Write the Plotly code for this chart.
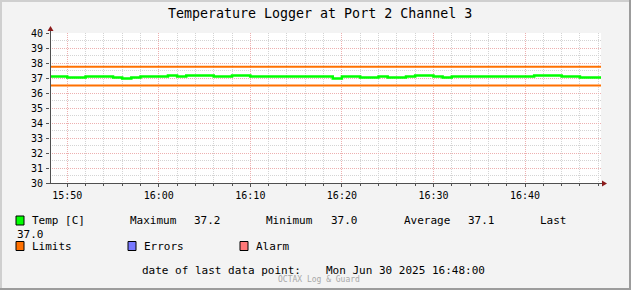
import pandas as pd
import plotly.graph_objects as go

# ---------------- data ----------------
TITLE = "Temperature Logger at Port 2 Channel 3"
X_START = "2025-06-30 15:48:07"
X_END = "2025-06-30 16:48:18"
SAMPLE_START = "2025-06-30 15:48:00"
TEMP_VALUES = [
    37.10, 37.10, 37.03, 37.03, 37.10, 37.10, 37.10, 37.03, 36.97, 37.03,
    37.10, 37.10, 37.10, 37.17, 37.10, 37.17, 37.17, 37.17, 37.10, 37.10,
    37.17, 37.17, 37.10, 37.10, 37.10, 37.10, 37.10, 37.10, 37.10, 37.10,
    37.10, 36.97, 37.10, 37.10, 37.03, 37.03, 37.10, 37.03, 37.03, 37.10,
    37.17, 37.17, 37.10, 37.03, 37.10, 37.10, 37.10, 37.10, 37.10, 37.10,
    37.10, 37.10, 37.10, 37.17, 37.17, 37.17, 37.10, 37.10, 37.03, 37.03,
]
LIMIT_HIGH = 37.75
LIMIT_LOW = 36.5
Y_RANGE = [30, 40]
STATS = {"Maximum": "37.2", "Minimum": "37.0", "Average": "37.1", "Last": "37.0"}
LAST_DATE = "Mon Jun 30 2025 16:48:00"

# ---------------- geometry helpers ----------------
W, H = 631, 290
PL, PT, PW, PH = 50, 33, 551, 150
FONT = "DejaVu Sans Mono"


def px(x):
    return (x - PL) / PW


def py(y):
    return (PT + PH - y) / PH


times = list(pd.date_range(SAMPLE_START, periods=len(TEMP_VALUES), freq="1min"))
times.append(pd.Timestamp(X_END))
temps = TEMP_VALUES + [TEMP_VALUES[-1]]

fig = go.Figure()
for lim in (LIMIT_HIGH, LIMIT_LOW):
    fig.add_trace(go.Scatter(x=[X_START, X_END], y=[lim, lim], mode="lines",
                             line=dict(color="#ff7000", width=2), hoverinfo="skip"))
fig.add_trace(go.Scatter(x=times, y=temps, mode="lines", line_shape="hv",
                         line=dict(color="#00ff00", width=2.5), hoverinfo="skip"))

MAJ = "#edb0b0"
MIN = "#d4d4d4"
AX = "#505050"
fig.update_xaxes(
    range=[X_START, X_END], type="date", tick0="2025-06-30 15:50:00", dtick=600000,
    tickformat="%H:%M", showgrid=True, gridcolor=MAJ, griddash="1px,1px", gridwidth=1,
    ticks="outside", ticklen=3, tickcolor=AX, zeroline=False, showline=False,
    tickfont=dict(family=FONT, size=10, color="#000"),
    minor=dict(dtick=120000, tick0="2025-06-30 15:50:00", showgrid=True, gridcolor=MIN,
               griddash="1px,1px", gridwidth=1, ticks="outside", ticklen=2, tickcolor=AX),
)
fig.update_yaxes(
    range=Y_RANGE, dtick=1, showgrid=True, gridcolor=MAJ, griddash="1px,1px", gridwidth=1,
    ticks="outside", ticklen=3, tickcolor=AX, zeroline=False, showline=False,
    tickfont=dict(family=FONT, size=10, color="#000"), ticklabelstandoff=1,
    minor=dict(dtick=0.5, showgrid=True, gridcolor=MIN, griddash="1px,1px", gridwidth=1),
)

shapes = []
# frame
shapes.append(dict(type="line", xref="paper", yref="paper", x0=px(0), x1=px(W), y0=py(1), y1=py(1),
                   line=dict(color="#cfcfcf", width=2)))
shapes.append(dict(type="line", xref="paper", yref="paper", x0=px(1), x1=px(1), y0=py(0), y1=py(H),
                   line=dict(color="#cfcfcf", width=2)))
shapes.append(dict(type="line", xref="paper", yref="paper", x0=px(W - 1), x1=px(W - 1), y0=py(0), y1=py(H),
                   line=dict(color="#9c9c9c", width=2)))
shapes.append(dict(type="line", xref="paper", yref="paper", x0=px(0), x1=px(W), y0=py(H - 1), y1=py(H - 1),
                   line=dict(color="#9c9c9c", width=2)))
# axes
shapes.append(dict(type="line", xref="paper", yref="paper", x0=px(50.5), x1=px(50.5), y0=py(183.5), y1=py(30),
                   line=dict(color=AX, width=1)))
shapes.append(dict(type="line", xref="paper", yref="paper", x0=px(47), x1=px(603), y0=py(183.5), y1=py(183.5),
                   line=dict(color=AX, width=1)))
ARW = "#8b1a1a"
shapes.append(dict(type="path", xref="paper", yref="paper",
                   path=f"M {px(47.5)},{py(31)} L {px(53.5)},{py(31)} L {px(50.5)},{py(26)} Z",
                   fillcolor=ARW, line=dict(color=ARW, width=0)))
shapes.append(dict(type="path", xref="paper", yref="paper",
                   path=f"M {px(602)},{py(180.5)} L {px(602)},{py(186.5)} L {px(607)},{py(183.5)} Z",
                   fillcolor=ARW, line=dict(color=ARW, width=0)))


def square(x, y, color):
    shapes.append(dict(type="rect", xref="paper", yref="paper", x0=px(x), x1=px(x + 8),
                       y0=py(y + 4.5), y1=py(y - 4.5), fillcolor=color,
                       line=dict(color="#000", width=1)))


annotations = []


def text(x, y, s, size=11, color="#000", anchor="left"):
    annotations.append(dict(xref="paper", yref="paper", x=px(x), y=py(y), text=s, showarrow=False,
                            xanchor=anchor, yanchor="middle",
                            font=dict(family=FONT, size=size, color=color)))


text(319.5, 14, TITLE, size=13.3, anchor="center")

L1, L2, L3, L4 = 220, 234, 246, 270.5
square(16, L1 + 0.5, "#00ff00")
text(30, L1, "Temp [C]")
text(128, L1, "Maximum")
text(192, L1, STATS["Maximum"])
text(264, L1, "Minimum")
text(329, L1, STATS["Minimum"])
text(402, L1, "Average")
text(466, L1, STATS["Average"])
text(538, L1, "Last")
text(15, L2, STATS["Last"])
square(16, L3, "#ff7000")
text(30, L3, "Limits")
square(128, L3, "#7878ff")
text(142, L3, "Errors")
square(240, L3, "#ff7878")
text(254, L3, "Alarm")
text(140, L4, "date of last data point:")
text(324, L4, LAST_DATE)
text(318.5, 279.5, "OCTAX Log &amp; Guard", size=8, color="#a8a8a8", anchor="center")

fig.update_layout(
    width=W, height=H, margin=dict(l=PL, r=W - PL - PW, t=PT, b=H - PT - PH, autoexpand=False),
    paper_bgcolor="#f3f3f3", plot_bgcolor="#ffffff", showlegend=False,
    shapes=shapes, annotations=annotations,
)
fig.write_html("out.html")
